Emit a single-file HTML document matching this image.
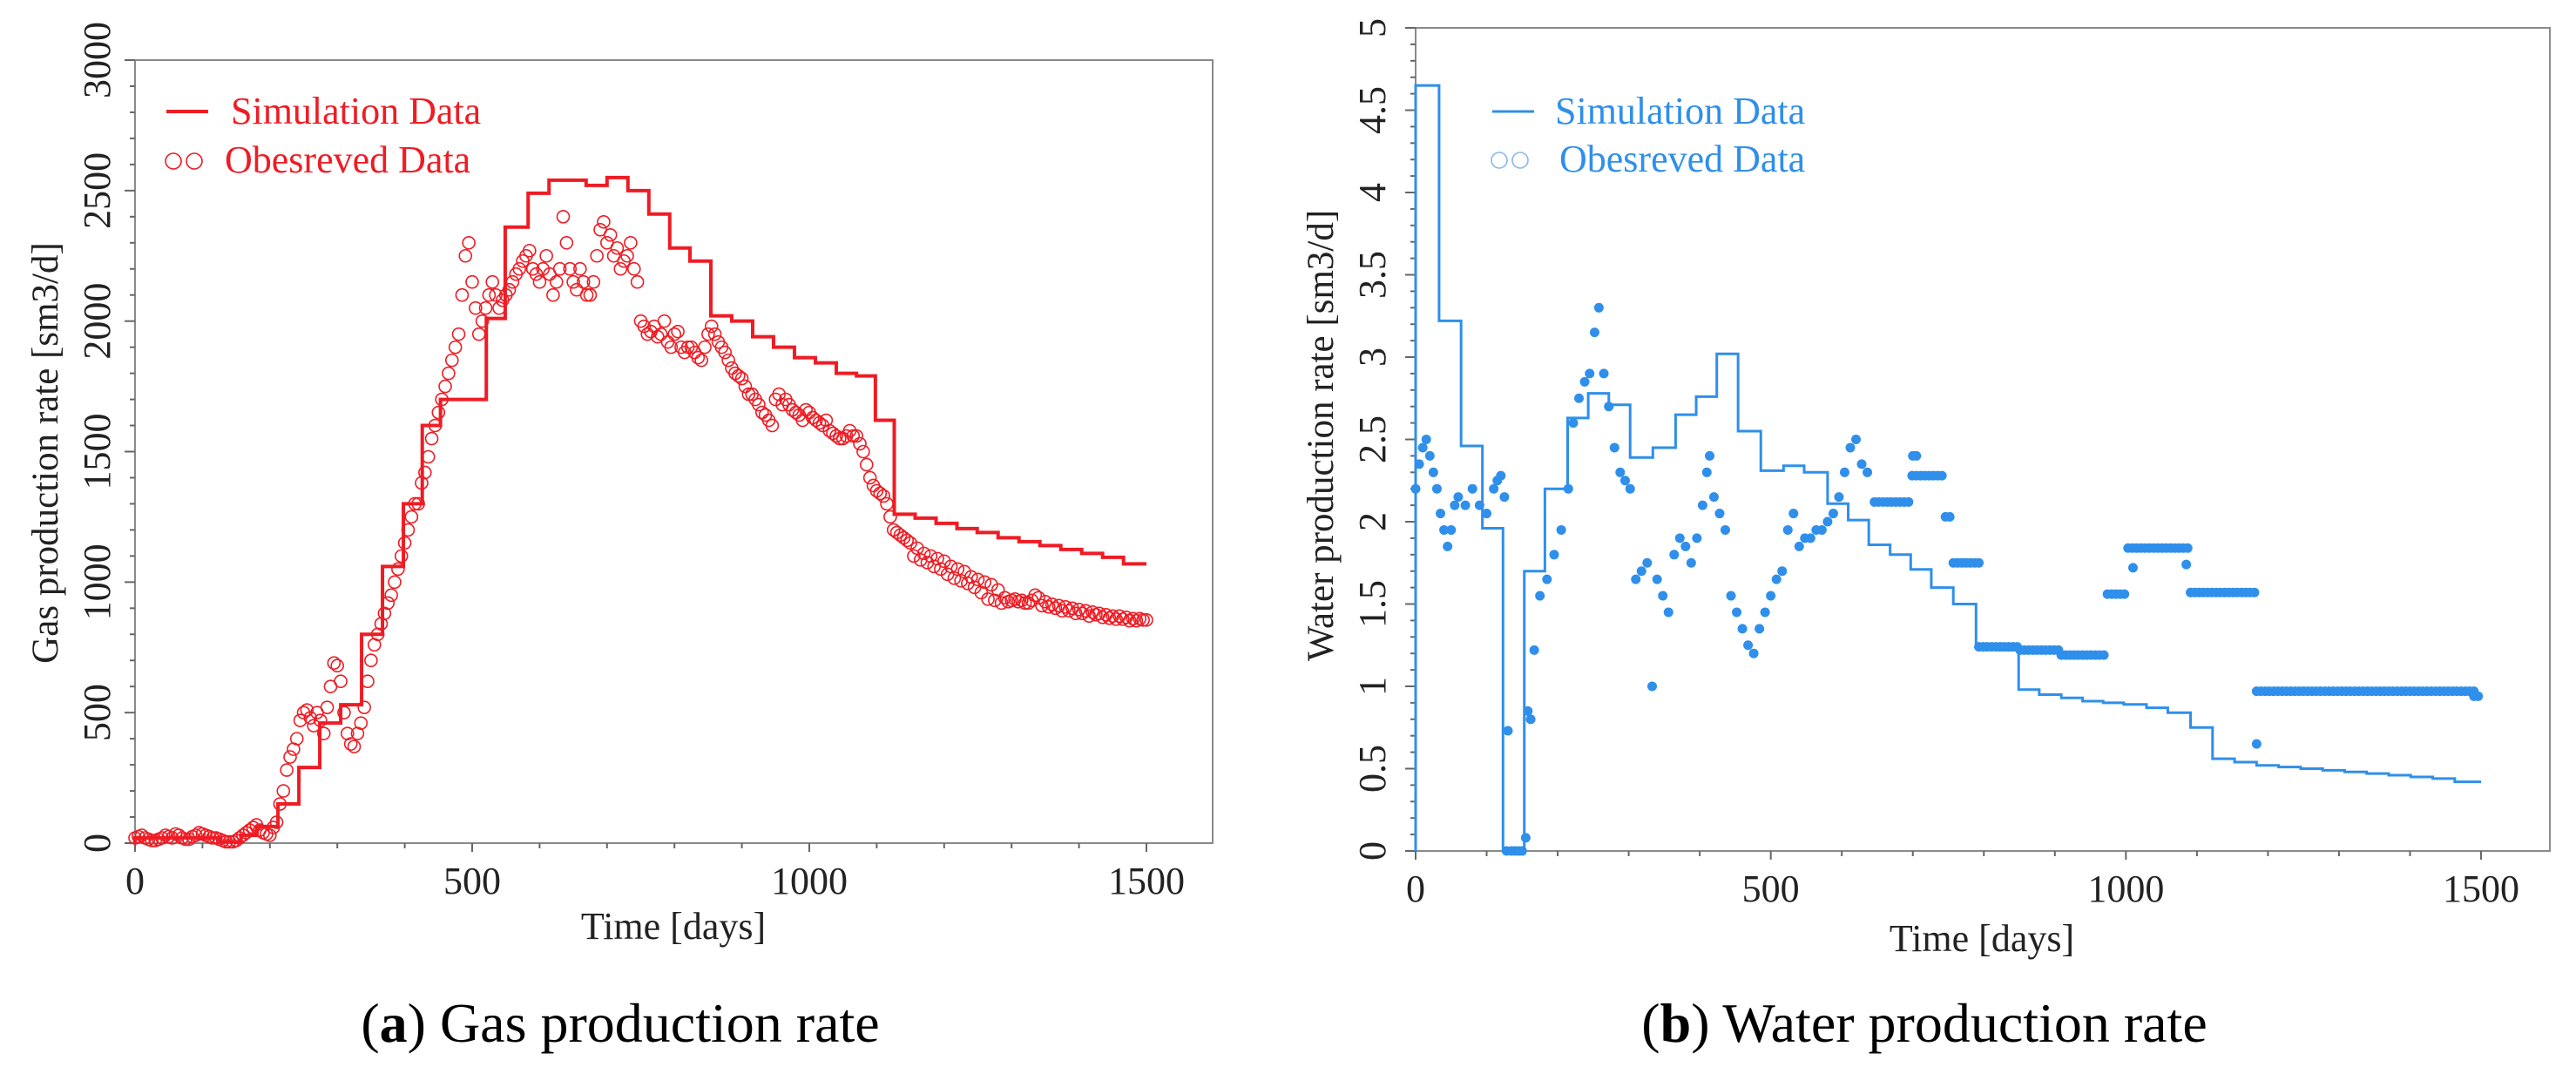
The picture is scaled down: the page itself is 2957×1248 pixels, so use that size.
<!DOCTYPE html>
<html><head><meta charset="utf-8">
<style>
html,body{margin:0;padding:0;background:#fff;}
svg{display:block;font-family:"Liberation Serif",serif;}
</style></head>
<body>
<svg id="fig" width="2957" height="1248" viewBox="0 0 2957 1248" xmlns="http://www.w3.org/2000/svg">
<g id="chartA"></g>
<g id="chartB"></g>
<text x="712" y="1196" font-size="64" text-anchor="middle" fill="#000">(<tspan font-weight="bold">a</tspan>) Gas production rate</text>
<text x="2209" y="1196" font-size="64" text-anchor="middle" fill="#000">(<tspan font-weight="bold">b</tspan>) Water production rate</text>
</svg>
<script>
// ---------- Gas chart data ----------
const gasSimDays = [0,126,157,181,212,243,274,305,336,367,398,426,453,521,549,583,614,669,700,731,762,793,823,854,885,916,947,978,1009,1040,1070,1098,1126,1157,1188,1219,1249,1280,1311,1342,1373,1404,1435,1466];
const gasSimValues = [20,5,30,64,150,290,460,530,800,1060,1300,1600,1700,2010,2360,2490,2540,2520,2550,2500,2410,2280,2230,2020,2000,1940,1900,1860,1840,1800,1790,1620,1260,1245,1225,1205,1190,1170,1155,1140,1125,1110,1095,1070];
const gasObsDays = [0,10,20,30,40,50,60,70,80,90,100,110,120,130,140,150,160,170,180,190,200,210,220,230,240,250,260,270,280,290,300,310,320,330,340,350,360,370,380,390,400,410,420,430,440,450,460,470,480,490,500,510,520,530,540,550,560,570,580,590,600,610,620,630,640,650,660,670,680,690,700,710,720,730,740,750,760,770,780,790,800,810,820,830,840,850,860,870,880,890,900,910,920,930,940,950,960,970,980,990,1000,1010,1020,1030,1040,1050,1060,1070,1080,1090,1100,1110,1120,1130,1140,1150,1160,1170,1180,1190,1200,1210,1220,1230,1240,1250,1260,1270,1280,1290,1300,1310,1320,1330,1340,1350,1360,1370,1380,1390,1400,1410,1420,1430,1440,1450,1460,1470,1480,1490,1500];
const gasObsValues = [20,30,15,10,20,25,35,20,15,30,35,25,20,10,5,10,30,50,70,40,30,80,200,330,400,500,480,500,420,600,680,500,380,420,520,700,800,880,950,1050,1150,1250,1300,1420,1550,1650,1750,1850,1950,2250,2150,1950,2050,2150,2050,2100,2150,2200,2250,2200,2150,2250,2100,2200,2300,2150,2200,2100,2150,2350,2300,2250,2200,2250,2200,2000,1950,1980,1950,1920,1950,1900,1900,1880,1850,1950,1950,1900,1850,1800,1780,1720,1700,1650,1620,1700,1680,1680,1650,1620,1650,1620,1600,1580,1560,1550,1580,1560,1500,1400,1350,1330,1250,1190,1170,1150,1130,1110,1100,1090,1080,1060,1050,1040,1020,1010,1000,990,970,940,930,925,920,930,940,925,915,910,905,900,895,890,885,880,875,870,870,865,860,860,855,855,850,860];
const gasObsDays2 = [5,15,25,35,45,55,65,75,85,95,105,115,125,135,145,155,165,175,185,195,205,215,225,235,245,255,265,275,285,295,305,315,325,335,345,355,365,375,385,395,405,415,425,435,445,455,465,475,485,495,505,515,525,535,545,555,565,575,585,595,605,615,625,635,645,655,665,675,685,695,705,715,725,735,745,755,765,775,785,795,805,815,825,835,845,855,865,875,885,895,905,915,925,935,945,955,965,975,985,995,1005,1015,1025,1035,1045,1055,1065,1075,1085,1095,1105,1115,1125,1135,1145,1155,1165,1175,1185,1195,1205,1215,1225,1235,1245,1255,1265,1275,1285,1295,1305,1315,1325,1335,1345,1355,1365,1375,1385,1395,1405,1415,1425,1435,1445,1455,1465,1475,1485,1495];
const gasObsValues2 = [25,20,10,15,30,20,30,15,25,40, 30,20,15,5,5,20,40,60,50,35, 60,150,280,360,470,510,450,470,520,690, 620,420,370,460,620,760,840,920,1000,1100, 1200,1300,1380,1480,1600,1700,1800,1900,2100,2300, 2050,2000,2100,2100,2080,2120,2180,2230,2270,2180, 2200,2180,2150,2400,2200,2120,2150,2100,2250,2380, 2330,2280,2230,2300,2150,1980,1960,1940,2000,1900, 1960,1880,1900,1860,1900,1980,1920,1880,1820,1790, 1750,1720,1680,1640,1600,1720,1700,1660,1640,1660, 1630,1610,1620,1570,1550,1560,1560,1530,1450,1370, 1340,1300,1200,1180,1160,1100,1085,1075,1060,1050, 1030,1015,1005,995,980,960,935,930,920,925, 935,930,920,950,910,905,900,890,890,880, 880,870,875,865,862,858,858,852,852,855];
const gasXTicks = [0,500,1000,1500];
const gasYTicks = [0,500,1000,1500,2000,2500,3000];

// ---------- Water chart data ----------
const waterSimDays = [0,33,64,94,123,153,182,214,243,272,302,334,366,395,424,454,486,518,547,580,609,638,668,697,726,757,789,818,849,878,909,939,968,997,1029,1059,1091,1122,1153,1184,1215,1246,1277,1308,1339,1370,1401,1432,1463];
const waterSimValues = [4.65,3.22,2.46,1.96,0,1.70,2.20,2.63,2.78,2.71,2.39,2.45,2.65,2.76,3.02,2.55,2.31,2.34,2.30,2.11,2.01,1.86,1.80,1.71,1.60,1.50,1.24,1.22,0.98,0.95,0.93,0.91,0.90,0.89,0.87,0.84,0.75,0.56,0.54,0.52,0.51,0.50,0.49,0.48,0.47,0.46,0.45,0.44,0.42];
const waterObsDays = [0,5,10,15,20,25,30,35,40,45,50,55,60,70,80,90,100,110,115,120,125,130,128,135,140,145,150,155,158,162,167,175,185,195,205,215,222,230,238,245,252,258,265,272,280,288,295,302,310,318,326,333,340,348,356,364,372,380,388,396,404,410,414,420,428,436,444,452,460,468,476,484,492,500,508,516,524,532,540,548,556,564,572,580,588,596,604,612,620,628,636,700,705,1010,1085,1184];
const waterObsValues = [2.2,2.35,2.45,2.5,2.4,2.3,2.2,2.05,1.95,1.85,1.95,2.1,2.15,2.1,2.2,2.1,2.05,2.2,2.25,2.28,2.15,0.73,0,0,0,0,0,0.08,0.85,0.8,1.22,1.55,1.65,1.8,1.95,2.2,2.6,2.75,2.85,2.9,3.15,3.3,2.9,2.7,2.45,2.3,2.25,2.2,1.65,1.7,1.75,1.0,1.65,1.55,1.45,1.8,1.9,1.85,1.75,1.9,2.1,2.3,2.4,2.15,2.05,1.95,1.55,1.45,1.35,1.25,1.2,1.35,1.45,1.55,1.65,1.7,1.95,2.05,1.85,1.9,1.9,1.95,1.95,2.0,2.05,2.15,2.3,2.45,2.5,2.35,2.3,2.4,2.4,1.72,1.74,0.65];
const waterPlateauStart = [646,699,746,757,793,851,909,974,1003,1091,1184,1490];
const waterPlateauEnd   = [699,746,757,793,851,909,974,1003,1091,1184,1490,1500];
const waterPlateauValue = [2.12,2.28,2.03,1.75,1.24,1.22,1.19,1.56,1.84,1.57,0.97,0.94];
const waterXTicks = [0,500,1000,1500];
const waterYTicks = [0,0.5,1,1.5,2,2.5,3,3.5,4,4.5,5];

const NS = "http://www.w3.org/2000/svg";
function mk(tag, attrs, parent){
  const e = document.createElementNS(NS, tag);
  for (const k in attrs) e.setAttribute(k, attrs[k]);
  parent.appendChild(e);
  return e;
}

function buildChart(g, cfg){
  const X = d => cfg.x0 + (d - 0) / 1500 * (cfg.x1500 - cfg.x0);
  const Y = v => cfg.yB - v / cfg.yMax * (cfg.yB - cfg.yT);
  const frame = mk('rect', {x:cfg.x0, y:cfg.yT, width:cfg.xR-cfg.x0, height:cfg.yB-cfg.yT, fill:'none', stroke:'#8a8a8a', 'stroke-width':2}, g);
  
  
  for (let d = 0; d <= 1600; d += 100){
    const px = X(d);
    if (px > cfg.xR) break;
    const t = mk('line', {x1:px, x2:px, y1:cfg.yB, y2:cfg.yB + (d%500===0?10:6), stroke:'#666', 'stroke-width':2}, g);
    
    
  }
  cfg.xTicks.forEach(d => {
    const t = mk('text', {x:X(d), y:cfg.yB + 58, 'font-size':44, 'text-anchor':'middle', fill:'#222'}, g);
    t.textContent = d;
    
    
  });
  for (let v = 0; v <= cfg.yMax + 1e-9; v += cfg.yMinor){
    const py = Y(v);
    const major = Math.abs(v / cfg.yMajor - Math.round(v / cfg.yMajor)) < 1e-6;
    const t = mk('line', {x1:cfg.x0 - (major?12:6), x2:cfg.x0, y1:py, y2:py, stroke:'#666', 'stroke-width':2}, g);
    
    
  }
  cfg.yTicks.forEach(v => {
    const py = Y(v);
    const t = mk('text', {x:0, y:0, 'font-size':44, 'text-anchor':'middle', fill:'#222', transform:`translate(${cfg.yLabX},${py}) rotate(-90)`}, g);
    t.textContent = v;
    
    
  });
  const xt = mk('text', {x:cfg.xTitleX, y:cfg.xTitleY, 'font-size':44, 'text-anchor':'middle', fill:'#222'}, g);
  xt.textContent = 'Time [days]';
  
  
  const yt = mk('text', {x:0, y:0, 'font-size':43, 'text-anchor':'middle', fill:'#222', transform:`translate(${cfg.yTitleX},${cfg.yTitleY}) rotate(-90)`}, g);
  yt.textContent = cfg.yTitle;
  
  

  const og = mk('g', {}, g);
  
  
  const addPt = (d, v) => {
    const c = mk('circle', cfg.filled ?
      {cx:X(d), cy:Y(v), r:5.5, fill:cfg.color} :
      {cx:X(d), cy:Y(v), r:7, fill:'none', stroke:cfg.color, 'stroke-width':1.6}, og);
    
    
  };
  cfg.obsDays.forEach((d, i) => addPt(d, cfg.obsValues[i]));
  if (cfg.obsDays2) cfg.obsDays2.forEach((d, i) => addPt(d, cfg.obsValues2[i]));
  if (cfg.platStart){
    cfg.platStart.forEach((s, i) => {
      for (let d = s; d <= cfg.platEnd[i]; d += 6) addPt(d, cfg.platValue[i]);
    });
  }
  let p = `M${X(0)},${Y(cfg.simStart)}`;
  cfg.simDays.forEach((d, i) => {
    const next = i + 1 < cfg.simDays.length ? cfg.simDays[i+1] : 1500;
    p += ` L${X(d)},${Y(cfg.simValues[i])} L${X(next)},${Y(cfg.simValues[i])}`;
  });
  const sl = mk('path', {d:p, fill:'none', stroke:cfg.color, 'stroke-width':cfg.simWidth}, g);
  
  

  const lg = mk('g', {}, g);
  
  
  const ll = mk('line', {x1:cfg.legX, x2:cfg.legX+48, y1:cfg.legY1-14, y2:cfg.legY1-14, stroke:cfg.color, 'stroke-width':cfg.simWidth}, lg);
  
  
  const lt1 = mk('text', {x:cfg.legTextX, y:cfg.legY1, 'font-size':44, fill:cfg.color}, lg);
  lt1.textContent = 'Simulation Data';
  
  
  [0, 1].forEach(k => {
    const c = mk('circle', {cx:cfg.legX+8+k*24, cy:cfg.legY2-13, r:9, fill:'none', stroke:cfg.legCircle, 'stroke-width':1.6}, lg);
    
    
  });
  const lt2 = mk('text', {x:cfg.legTextX2, y:cfg.legY2, 'font-size':44, fill:cfg.color}, lg);
  lt2.textContent = 'Obesreved Data';
  
  
}

buildChart(document.getElementById('chartA'), {
  x0:155, x1500:1316, xR:1392, yT:69, yB:968, yMax:3000, yMajor:500, yMinor:100,
  xTicks:gasXTicks, yTicks:gasYTicks, yLabX:126, yTitleX:66, yTitleY:520,
  xTitleX:773, xTitleY:1078, yTitle:'Gas production rate [sm3/d]',
  color:'#ee1c24', filled:false, simWidth:4,
  simDays:gasSimDays, simValues:gasSimValues, simStart:0,
  obsDays:gasObsDays, obsValues:gasObsValues,
  obsDays2:gasObsDays2, obsValues2:gasObsValues2,
  legX:191, legTextX:265, legTextX2:258, legY1:142, legY2:198, legCircle:'#ee1c24'
});
buildChart(document.getElementById('chartB'), {
  x0:1625, x1500:2848, xR:2927, yT:32, yB:977, yMax:5, yMajor:0.5, yMinor:0.1,
  xTicks:waterXTicks, yTicks:waterYTicks, yLabX:1590, yTitleX:1530, yTitleY:500,
  xTitleX:2275, xTitleY:1092, yTitle:'Water production rate [sm3/d]',
  color:'#2f8fea', filled:true, simWidth:3,
  simDays:waterSimDays, simValues:waterSimValues, simStart:0,
  obsDays:waterObsDays, obsValues:waterObsValues,
  platStart:waterPlateauStart, platEnd:waterPlateauEnd, platValue:waterPlateauValue,
  legX:1713, legTextX:1785, legTextX2:1790, legY1:142, legY2:197, legCircle:'#8ab8e6'
});
</script>
</body></html>
